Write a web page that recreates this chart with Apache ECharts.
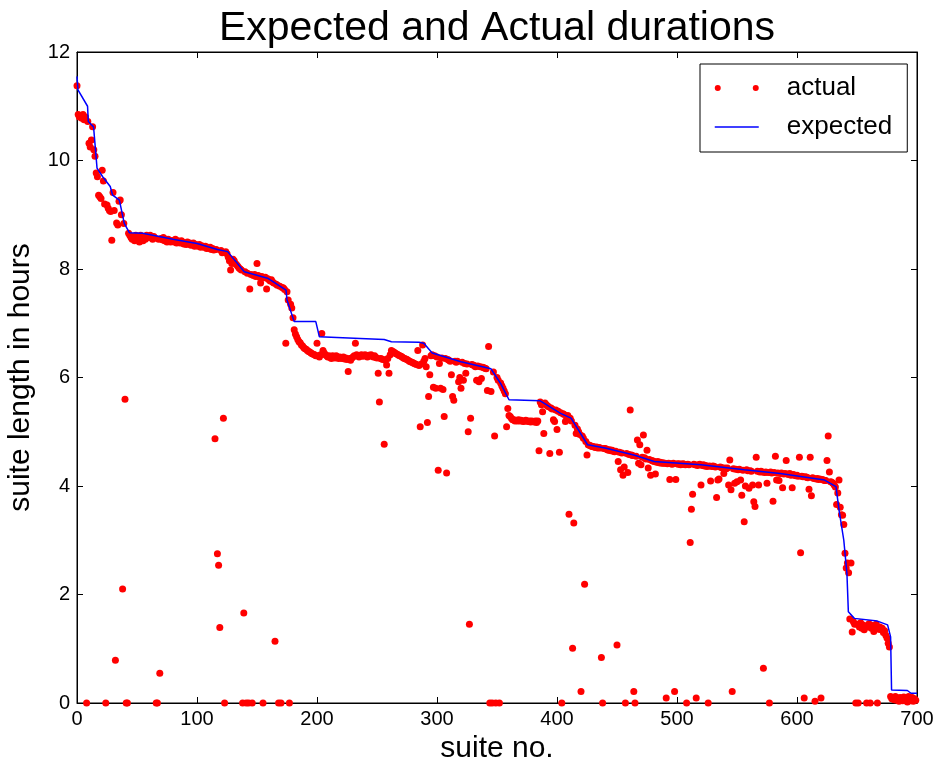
<!DOCTYPE html>
<html>
<head>
<meta charset="utf-8">
<script src="https://cdn.jsdelivr.net/npm/echarts@6/dist/echarts.min.js"></script>
<style>
html,body{margin:0;padding:0;background:#fff;}
#chart{width:938px;height:765px;}
</style>
</head>
<body>
<div id="chart"></div>
<script>
// Titles and labels
var titleText = 'Expected and Actual durations';
var xName = 'suite no.';
var yName = 'suite length in hours';
var seriesNames = ['actual', 'expected'];

// Expected duration (breakpoints of the line): suite no. and hours
var expectedX = [0, 0.8, 8.8, 9.4, 13.8, 16.7, 21.4, 27.7, 29.7, 35.3, 39.4, 43.6, 54.7, 80, 100, 117, 125.5, 139.4, 158.8, 174.2, 175, 181, 199, 202, 236, 256, 262, 285, 289, 296, 320, 345, 353, 360, 386, 403, 411.7, 425.5, 440, 464, 481, 520, 556, 586, 623, 632.5, 635, 639, 641.6, 642.8, 647.8, 667, 675.5, 678, 678.8, 692, 695, 700];
var expectedY = [11.55, 11.3, 11.0, 10.72, 10.62, 9.86, 9.70, 9.52, 9.36, 9.27, 8.84, 8.67, 8.66, 8.55, 8.47, 8.36, 8.32, 7.95, 7.83, 7.61, 7.43, 7.03, 7.03, 6.75, 6.72, 6.70, 6.66, 6.65, 6.63, 6.45, 6.29, 6.16, 5.89, 5.59, 5.57, 5.34, 5.25, 4.76, 4.70, 4.57, 4.45, 4.39, 4.30, 4.23, 4.11, 3.99, 3.56, 3.00, 2.39, 1.68, 1.56, 1.51, 1.44, 1.22, 0.24, 0.23, 0.18, 0.18];

// Actual duration, one value per suite (index = suite no.)
var actual = [
11.38, 10.85, 10.8, 10.82, 10.78, 10.85, 10.75, 10.8, 0, 10.72,
10.32, 10.25, 10.38, 10.62, 10.2, 10.08, 9.77, 9.7, 9.36, 9.33,
9.3, 9.82, 9.62, 9.2, 0, 9.18, 9.12, 9.08, 9.06, 8.53,
9.41, 9.08, 0.79, 8.85, 8.81, 9.25, 9.27, 9.0, 2.1, 8.84,
5.6, 0, 0, 8.66, 8.62, 8.58, 8.55, 8.6, 8.52, 8.62,
8.55, 8.6, 8.5, 8.62, 8.58, 8.52, 8.6, 8.55, 8.62, 8.6,
8.58, 8.62, 8.6, 8.55, 8.6, 8.57, 0, 0, 8.55, 0.55,
8.56, 8.54, 8.58, 8.52, 8.55, 8.5, 8.55, 8.53, 8.5, 8.52,
8.52, 8.5, 8.55, 8.48, 8.52, 8.5, 8.48, 8.52, 8.5, 8.46,
8.48, 8.45, 8.5, 8.46, 8.48, 8.44, 8.46, 8.48, 8.42, 8.45,
8.44, 8.42, 8.45, 8.4, 8.43, 8.41, 8.4, 8.42, 8.38, 8.4,
8.38, 8.4, 8.36, 8.38, 8.35, 4.87, 8.36, 2.75, 2.54, 1.39,
8.34, 8.3, 5.25, 0, 8.32, 8.28, 8.22, 8.15, 7.98, 8.1,
8.18, 8.15, 8.1, 8.08, 8.05, 8.02, 8.0, 7.98, 0, 1.66,
7.95, 0, 7.92, 0, 7.63, 7.9, 0, 7.88, 7.9, 7.86,
8.1, 7.88, 7.85, 7.74, 7.86, 0, 7.84, 7.85, 7.63, 7.82,
7.8, 7.78, 7.8, 7.76, 7.74, 1.14, 7.72, 7.7, 0, 7.68,
0, 7.66, 7.65, 7.62, 6.63, 7.58, 7.43, 0, 7.35, 7.28,
7.1, 6.88, 6.8, 6.75, 6.7, 6.66, 6.64, 6.6, 6.58, 6.55,
6.53, 6.52, 6.5, 6.48, 6.47, 6.45, 6.44, 6.43, 6.42, 6.4,
6.63, 6.4, 6.38, 6.42, 6.81, 6.5, 6.45, 6.42, 6.4, 6.38,
6.4, 6.37, 6.35, 6.4, 6.38, 6.36, 6.4, 6.38, 6.35, 6.38,
6.36, 6.35, 6.38, 6.34, 6.36, 6.33, 6.11, 6.35, 6.32, 6.36,
6.38, 6.4, 6.63, 6.42, 6.4, 6.38, 6.4, 6.42, 6.39, 6.4,
6.42, 6.4, 6.38, 6.41, 6.4, 6.42, 6.39, 6.38, 6.4, 6.37,
6.36, 6.08, 5.55, 6.35, 6.34, 6.33, 4.77, 6.32, 6.23, 6.35,
6.08, 6.42, 6.5, 6.48, 6.47, 6.45, 6.44, 6.43, 6.41, 6.4,
6.39, 6.38, 6.36, 6.35, 6.34, 6.33, 6.32, 6.3, 6.29, 6.28,
6.27, 6.26, 6.25, 6.24, 6.5, 6.22, 5.09, 6.25, 6.6, 6.3,
6.35, 6.2, 5.17, 5.65, 6.05, 6.4, 6.42, 5.82, 6.4, 5.8,
6.38, 4.29, 6.26, 5.8, 6.36, 5.78, 5.28, 6.35, 4.24, 6.33,
6.32, 6.3, 6.05, 5.65, 5.58, 6.3, 6.28, 6.3, 5.92, 6.0,
5.8, 6.28, 5.95, 6.26, 6.08, 6.25, 5.0, 1.45, 5.25, 6.24,
6.23, 6.22, 6.2, 5.95, 6.21, 5.92, 6.2, 5.98, 6.19, 6.18,
6.17, 6.16, 5.76, 6.57, 0, 5.74, 0, 6.1, 4.92, 0,
6.0, 5.95, 0, 5.9, 5.85, 5.8, 5.75, 5.7, 5.09, 5.43,
5.3, 5.28, 5.25, 5.22, 5.22, 5.2, 5.21, 5.2, 5.22, 5.2,
5.21, 5.2, 5.19, 5.2, 5.21, 5.2, 5.19, 5.2, 5.18, 5.2,
5.19, 5.18, 5.2, 5.17, 5.2, 4.65, 5.55, 5.5, 5.37, 4.97,
5.53, 5.5, 5.48, 5.46, 4.6, 5.44, 5.42, 5.22, 5.19, 5.4,
5.04, 5.38, 4.62, 5.35, 0, 5.33, 5.32, 5.19, 5.22, 5.3,
3.48, 5.25, 5.2, 1.01, 3.32, 5.12, 4.97, 5.05, 5.0, 4.95,
0.21, 4.92, 4.88, 2.19, 4.82, 4.57, 4.76, 4.75, 4.74, 4.73,
4.73, 4.72, 4.71, 4.72, 4.7, 4.71, 4.7, 0.84, 0, 4.69,
4.69, 4.68, 4.67, 4.66, 4.67, 4.65, 4.66, 4.64, 4.63, 4.64,
1.07, 4.45, 4.62, 4.3, 4.61, 4.2, 4.35, 0, 4.6, 4.25,
4.58, 5.4, 4.57, 4.56, 0.21, 0, 4.55, 4.85, 4.42, 4.76,
4.39, 4.53, 4.94, 4.52, 4.5, 4.66, 4.33, 4.49, 4.2, 4.47,
4.46, 4.45, 4.22, 4.44, 4.45, 4.43, 4.44, 4.42, 4.43, 4.42,
4.42, 0.09, 4.41, 4.42, 4.12, 4.41, 4.4, 4.42, 0.21, 4.12,
4.41, 4.4, 4.41, 4.39, 4.4, 4.41, 4.4, 4.39, 0, 4.4,
4.39, 2.96, 3.57, 3.85, 4.4, 4.39, 0.09, 4.38, 4.39, 4.4,
4.02, 4.38, 4.39, 4.37, 4.38, 4.36, 0, 4.37, 4.09, 4.36,
4.37, 4.36, 4.35, 3.79, 4.11, 4.13, 4.35, 4.34, 4.33, 4.23,
4.33, 4.32, 4.33, 4.02, 4.48, 3.93, 0.21, 4.32, 4.05, 4.31,
4.08, 4.3, 4.31, 4.11, 3.83, 4.29, 3.34, 4.0, 4.3, 4.28,
3.96, 4.28, 4.27, 4.02, 3.71, 3.62, 4.53, 4.27, 4.02, 4.26,
4.27, 4.26, 0.64, 4.25, 4.26, 4.05, 4.25, 0, 4.26, 4.24,
3.72, 4.25, 4.55, 4.11, 4.24, 4.1, 4.23, 4.24, 3.97, 4.22,
4.23, 4.47, 4.22, 4.21, 4.23, 4.2, 3.97, 4.21, 4.2, 4.19,
4.2, 4.18, 4.53, 2.77, 4.18, 4.17, 0.09, 4.17, 4.16, 4.15,
3.94, 4.53, 3.82, 4.15, 4.14, 0.03, 4.13, 4.14, 4.12, 4.13,
0.09, 4.12, 4.11, 4.1, 4.1, 4.47, 4.92, 4.26, 4.08, 4.07,
4.05, 4.02, 3.98, 3.66, 3.87, 4.11, 3.61, 3.47, 3.46, 3.29,
2.76, 2.49, 2.58, 2.4, 1.55, 2.58, 1.31, 1.5, 1.45, 0,
1.45, 0, 1.4, 1.48, 1.38, 1.44, 1.35, 1.42, 0, 1.4,
1.46, 0, 1.38, 1.43, 1.32, 1.4, 1.45, 0, 1.36, 1.4,
1.35, 1.38, 1.3, 1.33, 1.25, 1.2, 1.1, 1.03, 0.12, 0.08,
0.1, 0.06, 0.12, 0.05, 0.09, 0.03, 0.1, 0.07, 0.04, 0.11,
0.05, 0.09, 0.02, 0.12, 0.06, 0.04, 0.1, 0.03, 0.08, 0.05
];

// Axis ranges and tick steps
var xRange = [0, 700], xStep = 100;
var yRange = [0, 12], yStep = 2;

var FONT = "'Liberation Sans', Arial, sans-serif";
var actualData = actual.map(function (v, i) { return [i, v]; });
var expectedData = expectedX.map(function (x, i) { return [x, expectedY[i]]; });

var chart = echarts.init(document.getElementById('chart'), null, {renderer: 'canvas'});

function baseAxis(extra) {
  var a = {
    type: 'value',
    splitLine: {show: false},
    axisLine: {show: true, onZero: false, lineStyle: {color: '#000', width: 1}},
    axisTick: {show: true, inside: true, length: 6, lineStyle: {color: '#000', width: 1}},
    axisLabel: {show: true, color: '#000', fontSize: 20, fontFamily: FONT}
  };
  for (var k in extra) a[k] = extra[k];
  return a;
}

chart.setOption({
  animation: false,
  backgroundColor: '#fff',
  textStyle: {fontFamily: FONT},
  title: {
    text: titleText,
    left: 492, top: 3, textAlign: 'center',
    textStyle: {fontSize: 41, fontWeight: 'normal', color: '#000', fontFamily: FONT}
  },
  grid: {left: 77, right: 21, top: 52, bottom: 62, show: true, borderColor: '#000', borderWidth: 1,
         containLabel: false, outerBoundsMode: 'none'},
  legend: {
    orient: 'vertical', left: 700, top: 64,
    padding: [11, 15, 12, 14],
    itemGap: 13,
    itemWidth: 44, itemHeight: 7,
    borderColor: '#000', borderWidth: 1, backgroundColor: '#fff',
    textStyle: {fontSize: 26, color: '#000', fontFamily: FONT, padding: [0, 0, 0, 23]},
    data: [
      {name: seriesNames[0], icon: 'path://M0,3.5a3,3 0 1,0 6,0a3,3 0 1,0 -6,0zM38,3.5a3,3 0 1,0 6,0a3,3 0 1,0 -6,0z'},
      {name: seriesNames[1], itemStyle: {opacity: 0, color: 'rgba(0,0,0,0)', borderWidth: 0}, lineStyle: {color: '#0000ff', width: 1.5, opacity: 1}}
    ]
  },
  xAxis: [
    baseAxis({min: xRange[0], max: xRange[1], interval: xStep, position: 'bottom',
      name: xName, nameLocation: 'middle', nameGap: 27,
      nameTextStyle: {fontSize: 30, color: '#000', fontFamily: FONT},
      axisLabel: {show: true, color: '#000', fontSize: 20, fontFamily: FONT, margin: 6}}),
    baseAxis({min: xRange[0], max: xRange[1], interval: xStep, position: 'top', axisLabel: {show: false}})
  ],
  yAxis: [
    baseAxis({min: yRange[0], max: yRange[1], interval: yStep, position: 'left',
      name: yName, nameLocation: 'middle', nameGap: 41,
      nameTextStyle: {fontSize: 30, color: '#000', fontFamily: FONT},
      axisLabel: {show: true, color: '#000', fontSize: 20, fontFamily: FONT, margin: 7}}),
    baseAxis({min: yRange[0], max: yRange[1], interval: yStep, position: 'right', axisLabel: {show: false}})
  ],
  series: [
    {
      name: seriesNames[0], type: 'scatter',
      xAxisIndex: 0, yAxisIndex: 0,
      data: actualData,
      symbol: 'circle', symbolSize: 7,
      itemStyle: {color: '#ff0000', opacity: 1},
      z: 2
    },
    {
      name: seriesNames[1], type: 'line',
      xAxisIndex: 0, yAxisIndex: 0,
      data: expectedData,
      showSymbol: false, symbol: 'none',
      lineStyle: {color: '#0000ff', width: 1.5},
      itemStyle: {color: '#0000ff'},
      z: 3
    }
  ]
});
</script>
</body>
</html>
